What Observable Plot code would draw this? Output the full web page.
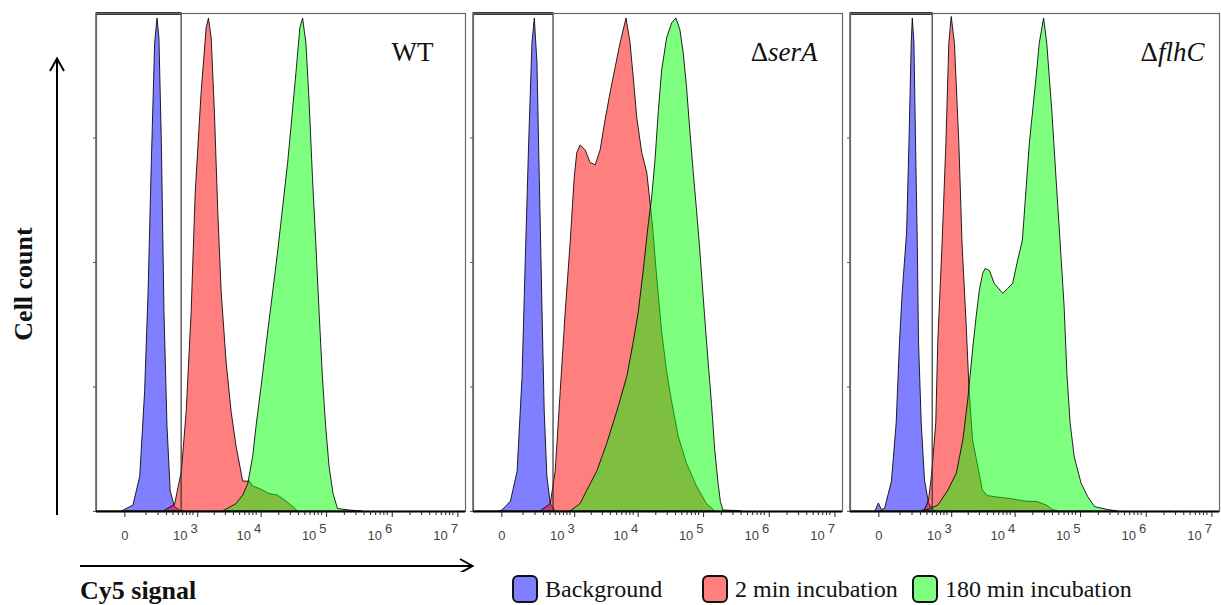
<!DOCTYPE html>
<html><head><meta charset="utf-8">
<script src="https://cdn.jsdelivr.net/npm/d3@7"></script>
<script src="https://cdn.jsdelivr.net/npm/@observablehq/plot@0.6"></script>
<style>
html,body{margin:0;padding:0;background:#fff;}
#wrap{position:relative;width:1221px;height:605px;overflow:hidden;background:#fff;}
#bottom{position:relative;height:33px;font-family:"Liberation Serif","Times New Roman",serif;color:#111;}
.lab{position:absolute;white-space:nowrap;line-height:24px;}
.sw{position:absolute;width:26px;height:28px;border:2px solid #111;border-radius:6px;box-sizing:border-box;}
</style></head><body><div id="wrap"><div id="chart"></div><div id="bottom"></div></div>
<script>
// ---- categories ----
const panels = ["WT", "ΔserA", "ΔflhC"];
const seriesNames = ["Background", "2 min incubation", "180 min incubation"];
const seriesColors = ["#0000ff", "#ff0000", "#00ff00"];
const xLabel = "Cy5 signal";
const yLabel = "Cell count";
// gate boundary (Cy5 signal) per panel
const gateValues = [575, 466, 510];
// ticks
const zeroTick = [0];
const powerTicks = [1e3, 1e4, 1e5, 1e6, 1e7];
const minorTicks = [100, 200, 300, 400, 500, 600, 700, 800, 900,
  2e3, 3e3, 4e3, 5e3, 6e3, 7e3, 8e3, 9e3,
  2e4, 3e4, 4e4, 5e4, 6e4, 7e4, 8e4, 9e4,
  2e5, 3e5, 4e5, 5e5, 6e5, 7e5, 8e5, 9e5,
  2e6, 3e6, 4e6, 5e6, 6e6, 7e6, 8e6, 9e6];
const yTicks = [0, 25, 50, 75];

// ---- histograms: [Cy5 signal, normalized cell count] ----
const wtBackground = [[-10,0],[32,1.2],[65,7],[94,24],[118,44],[143,70],[172,94],[195,99],[215,95],[242,74],[274,40],[315,17],[363,4],[437,0.9],[540,0.2],[650,0]];
const wt2min = [[262,0],[437,1.3],[580,8],[705,20],[855,40],[1000,64],[1250,84],[1510,97],[1645,99],[1820,95],[2050,80],[2320,60],[2620,44],[3130,30],[3750,20],[4480,13],[5680,6],[7190,6],[8100,5],[9100,4.8],[11500,4.2],[14500,3.5],[19500,3.2],[23300,2.5],[29400,1.5],[39500,0]];
const wt180min = [[2780,0],[4480,1.5],[5680,3.2],[6800,5.5],[8100,11],[9100,17],[10900,25],[12900,33],[16400,44],[19500,52],[23300,61],[27800,70],[31200,77],[37200,88],[42700,97],[47000,99],[52800,94],[59200,82],[66500,67],[74600,54],[83900,40],[94200,27],[105700,17],[119000,9],[137000,3.5],[160000,0.5],[240000,0.2],[380000,0]];

const serABackground = [[-10,0],[2,0.2],[34,2],[67,8],[97,27],[119,50],[146,74],[175,94],[198,99],[226,90],[253,67],[288,40],[318,20],[358,7],[414,1.5],[510,0]];
const serA2min = [[262,0],[414,1.5],[510,8],[625,24],[762,40],[925,54],[1080,67],[1190,72],[1350,73.5],[1630,72.5],[1950,70],[2350,69.5],[2810,72.5],[3360,78.5],[4020,84],[4810,89],[5750,94],[7110,99],[8200,94],[9200,87],[10400,79],[12400,72],[14800,68],[16600,62],[18200,57],[21000,47],[25000,36],[29800,28],[35500,22],[44800,15],[59900,9.6],[85200,5],[120600,1.5],[161600,0]];
const serA180min = [[925,0],[1350,1.5],[1730,4.2],[2490,8],[3570,13.6],[5110,20],[7300,27],[9200,34],[10970,40],[13000,48],[15400,57],[17600,63],[19800,70.5],[22300,80.5],[25000,88.5],[29800,95],[35500,98],[41300,99],[47600,96.6],[53500,91.9],[59900,85.2],[67300,76.5],[75400,68.5],[85200,60.4],[95600,52.4],[106700,43.7],[120600,34.3],[131000,28.3],[144000,21.6],[161600,12.2],[181500,5.6],[197000,1.9],[215000,0.2],[345000,0.1],[420000,0]];

const flhCBackground = [[-12,0],[0,1.6],[10,0.3],[22,0.5],[53,6],[79,17.7],[100,34],[119,44],[136,50],[154,56],[175,74],[197,94],[208,99],[226,94],[244,74],[265,54],[281,34],[318,17.7],[368,6.2],[437,1.6],[525,0.3],[600,0]];
const flhC2min = [[300,0],[368,0.3],[437,2.2],[500,7.6],[590,17.7],[640,34],[760,54],[880,73.8],[985,93.9],[1080,99.3],[1220,93.9],[1440,73.8],[1620,53.8],[1880,37.8],[2100,24.3],[2380,14.3],[3020,7.6],[3400,4.2],[4060,3.1],[5790,2.8],[9300,2.5],[15000,2.0],[23800,1.9],[33800,1.1],[40300,0.3],[50000,0]];
const flhC180min = [[300,0],[425,0.3],[642,1.2],[950,4.2],[1310,7.6],[1670,14.3],[2000,22.3],[2380,32.3],[2710,39],[3050,44.4],[3440,47.7],[3750,48.7],[4380,48.3],[5200,45.7],[7050,43.7],[8400,44.7],[10000,45.7],[11950,50.4],[14100,54.4],[18000,73.8],[22900,87.2],[25500,93.9],[29800,99],[33300,93.9],[39700,80.5],[46000,67],[53300,53.8],[61300,41],[67500,27.6],[75700,17.6],[87300,10.9],[111000,5.6],[140000,2.9],[177000,0.9],[280000,0.3],[400000,0]];

// ---- build table ----
const curves = [
  [wtBackground, wt2min, wt180min],
  [serABackground, serA2min, serA180min],
  [flhCBackground, flhC2min, flhC180min]
];
const rows = [];
curves.forEach((set, pi) => set.forEach((pts, si) => pts.forEach(([s, c]) =>
  rows.push({panel: panels[pi], series: seriesNames[si], signal: s, count: c}))));
const gates = panels.map((p, i) => ({panel: p, gate: gateValues[i]}));
const xMin = -155, xMax = 1.4e7;

const areas = seriesNames.map(name => Plot.areaY(rows.filter(r => r.series === name), {
  x: "signal", y: "count", fx: "panel", fill: "series", fillOpacity: 0.5,
  stroke: "#000", strokeOpacity: 0.85, strokeWidth: 1, strokeLinejoin: "round"
}));

const titleDx = [-32, -25, -15];
const titles = panels.map((p, i) => Plot.text([p], {
  fx: d => d, text: d => d, frameAnchor: "top-right", textAnchor: "end", lineAnchor: "bottom",
  dx: titleDx[i], dy: 47, fontSize: 27, fontFamily: '"Liberation Serif","Times New Roman",serif', fill: "#111",
  ariaLabel: "panel title"
}));

const plot = Plot.plot({
  width: 1221, height: 572,
  marginLeft: 95, marginRight: 2, marginTop: 13, marginBottom: 61,
  style: {fontFamily: '"Liberation Sans", Arial, sans-serif', fontSize: "13px", color: "#444", background: "transparent"},
  fx: {domain: panels, paddingInner: 0.022, paddingOuter: 0, axis: null, label: null},
  x: {type: "symlog", constant: 91, domain: [xMin, xMax]},
  y: {domain: [0, 100]},
  color: {domain: seriesNames, range: seriesColors},
  marks: [
    ...areas,
    Plot.rect(gates, {fx: "panel", x1: xMin, x2: "gate", y1: 0, y2: 100, fill: "none", stroke: "#333", strokeWidth: 1.2}),
    Plot.ruleY(gates, {fx: "panel", y: 100, x1: xMin, x2: "gate", stroke: "#333", strokeWidth: 3}),
    Plot.frame({stroke: "#666", strokeWidth: 1.2}),
    Plot.ruleY([0], {stroke: "#000", strokeWidth: 2}),
    Plot.axisY({ticks: yTicks, tickSize: 3, tickFormat: () => "", facetAnchor: null, label: null, stroke: "#555"}),
    Plot.axisX({ticks: minorTicks, tickSize: 4, tickFormat: () => "", label: null, stroke: "#222"}),
    Plot.axisX({ticks: zeroTick, tickSize: 6, tickPadding: 13, fontSize: 13, label: null, stroke: "#222"}),
    Plot.axisX({ticks: powerTicks, tickSize: 6, tickPadding: 13, fontSize: 13, textAnchor: "end", dx: 2,
      tickFormat: d => "10^" + Math.round(Math.log10(d)), label: null, stroke: "#222"}),
    ...titles
  ]
});
document.getElementById("chart").appendChild(plot);

const svg = d3.select(plot);
// superscript exponents & italic gene names
svg.selectAll("text").each(function () {
  const t = d3.select(this);
  const txt = t.text();
  let m = /^10\^(\d)$/.exec(txt);
  if (m) { t.text("10"); t.append("tspan").attr("dx", 3).attr("dy", "-0.5em").text(m[1]); return; }
  m = /^Δ(.+)$/.exec(txt);
  if (m) { t.text(""); t.append("tspan").text("Δ"); t.append("tspan").attr("font-style", "italic").text(m[1]); }
});
// axis arrows and y label
const deco = svg.append("g").attr("stroke", "#000").attr("fill", "none").attr("stroke-width", 2);
deco.append("line").attr("x1", 57).attr("x2", 57).attr("y1", 515).attr("y2", 59);
deco.append("polyline").attr("points", "50,71 57,58.5 64,71");
deco.append("line").attr("x1", 80).attr("x2", 472).attr("y1", 566).attr("y2", 566);
deco.append("polyline").attr("points", "460,559 472.5,566 460,573");
svg.append("text").attr("transform", "translate(23,284) rotate(-90)")
  .attr("text-anchor", "middle").attr("dominant-baseline", "central")
  .attr("font-family", '"Liberation Serif","Times New Roman",serif').attr("font-weight", "bold")
  .attr("font-size", 26).attr("fill", "#111").text(yLabel);

// bottom row: x label + legend
const bottom = d3.select("#bottom");
bottom.append("div").attr("class", "lab").style("left", "80px").style("top", "7px")
  .style("font-weight", "bold").style("font-size", "26px").text(xLabel);
const legendLeft = [512, 702, 912];
seriesNames.forEach((name, i) => {
  const c = d3.color(seriesColors[i]); c.opacity = 0.5;
  bottom.append("div").attr("class", "sw").style("left", legendLeft[i] + "px").style("top", "3px")
    .style("background", c.formatRgb());
  bottom.append("div").attr("class", "lab").style("left", (legendLeft[i] + 33) + "px").style("top", "5px")
    .style("font-size", "24px").text(name);
});
</script></body></html>
